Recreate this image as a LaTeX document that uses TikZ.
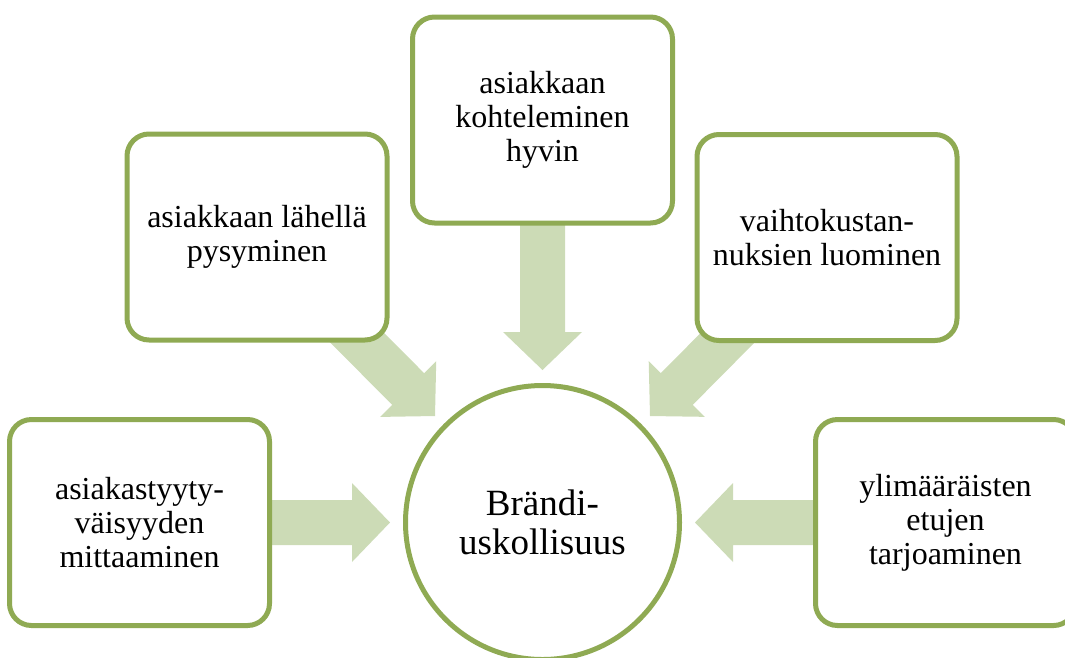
\documentclass[tikz,border=0pt]{standalone}
\usepackage{fontspec}
\setmainfont{Liberation Serif}
\usetikzlibrary{calc,backgrounds}
\definecolor{boxgreen}{RGB}{143,170,83}
\definecolor{arrowgreen}{RGB}{204,219,182}
\tikzset{
  itembox/.style={draw=boxgreen, line width=5pt, fill=white, rounded corners=22pt,
    minimum width=260pt, minimum height=206pt, align=center, inner sep=0pt,
    font=\fontsize{32pt}{34pt}\selectfont},
  centrecircle/.style={draw=boxgreen, line width=5pt, fill=white, circle,
    minimum size=274pt, align=center, inner sep=0pt,
    font=\fontsize{37pt}{39pt}\selectfont},
  arrowfill/.style={fill=arrowgreen}
}
\newcommand\fatarrow[2]{%
  \coordinate (fa-h) at ($(#2)!38pt!(#1)$);
  \fill[arrowfill] ($(#1)!22.5pt!90:(#2)$) -- ($(fa-h)!22.5pt!90:(#2)$)
    -- ($(fa-h)!39.5pt!90:(#2)$) -- (#2) -- ($(fa-h)!39.5pt!-90:(#2)$)
    -- ($(fa-h)!22.5pt!-90:(#2)$) -- ($(#1)!22.5pt!-90:(#2)$) -- cycle;}
\begin{document}
\begin{tikzpicture}[x=1pt,y=-1pt]
\useasboundingbox (0,0) rectangle (1065,657);
\node[centrecircle] (c) at (542.5,522.5) {Brändi-\\uskollisuus};
\node[itembox] (b1) at (139.5,522.5) {asiakastyyty-\\väisyyden\\mittaaminen};
\node[itembox] (b2) at (257,237) {asiakkaan lähellä\\pysyminen};
\node[itembox] (b3) at (542.5,120) {asiakkaan\\kohteleminen\\hyvin};
\node[itembox] (b4) at (827,237.5) {vaihtokustan-\\nuksien luominen};
\node[itembox] (b5) at (945.5,522.5) {ylimääräisten\\etujen\\tarjoaminen};
\coordinate (t1) at (390,522.5);
\coordinate (t2) at (435,416);
\coordinate (t3) at (542.5,370);
\coordinate (t4) at (650,416);
\coordinate (t5) at (695,522.5);
\begin{scope}[on background layer]
  \fatarrow{b1.center}{t1}
  \fatarrow{b2.center}{t2}
  \fatarrow{b3.center}{t3}
  \fatarrow{b4.center}{t4}
  \fatarrow{b5.center}{t5}
\end{scope}
\end{tikzpicture}
\end{document}
